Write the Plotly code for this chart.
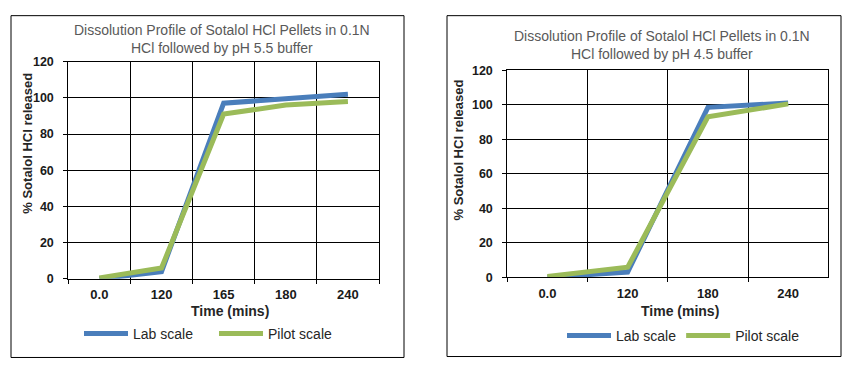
import plotly.graph_objects as go

# ---- data ----
left_categories = ["0.0", "120", "165", "180", "240"]
left_lab = [0, 4, 97, 99.5, 102]
left_pilot = [0.5, 6, 91, 96, 98]

right_categories = ["0.0", "120", "180", "240"]
right_lab = [0, 3, 98.5, 101]
right_pilot = [0.5, 5.8, 93, 100.5]

y_ticks = [0, 20, 40, 60, 80, 100, 120]

left_title = "Dissolution Profile of Sotalol HCl Pellets in 0.1N<br>HCl followed by pH 5.5 buffer"
right_title = "Dissolution Profile of Sotalol HCl Pellets in 0.1N<br>HCl followed by pH 4.5 buffer"
y_title = "% Sotalol HCl released"
x_title = "Time (mins)"

BLUE = "#4a7ebb"
GREEN = "#9bbb59"
W, H = 852, 377
FONT = "Liberation Sans, Arial, sans-serif"

fig = go.Figure()

fig.add_trace(go.Scatter(x=left_categories, y=left_lab, mode="lines", name="Lab scale",
                         line=dict(color=BLUE, width=5), xaxis="x", yaxis="y", legend="legend"))
fig.add_trace(go.Scatter(x=left_categories, y=left_pilot, mode="lines", name="Pilot scale",
                         line=dict(color=GREEN, width=5), xaxis="x", yaxis="y", legend="legend"))
fig.add_trace(go.Scatter(x=right_categories, y=right_lab, mode="lines", name="Lab scale",
                         line=dict(color=BLUE, width=5), xaxis="x2", yaxis="y2", legend="legend2"))
fig.add_trace(go.Scatter(x=right_categories, y=right_pilot, mode="lines", name="Pilot scale",
                         line=dict(color=GREEN, width=5), xaxis="x2", yaxis="y2", legend="legend2"))

def px_x(v):
    return v / W

def px_y(v):
    return 1 - v / H

xcommon = dict(type="category", tickson="boundaries", showgrid=True, gridcolor="#000000",
               gridwidth=1, ticks="outside", ticklen=4, tickcolor="#000000",
               showline=True, linecolor="#000000", mirror=True, ticklabelstandoff=4,
               tickfont=dict(family=FONT, size=13, color="#1a1a1a", weight="bold"),
               zeroline=False, fixedrange=True)
ycommon = dict(range=[0, 120], tickvals=y_ticks, showgrid=True, gridcolor="#000000",
               gridwidth=1, ticks="outside", ticklen=4, tickcolor="#000000",
               showline=True, linecolor="#000000", mirror=True, ticklabelstandoff=7,
               tickfont=dict(family=FONT, size=12.5, color="#1a1a1a", weight="bold"),
               zeroline=False, fixedrange=True)

fig.update_layout(
    width=W, height=H,
    margin=dict(l=0, r=0, t=0, b=0),
    paper_bgcolor="white", plot_bgcolor="white",
    font=dict(family=FONT),
    xaxis=dict(domain=[px_x(68.3), px_x(379)], anchor="y", range=[-0.5, 4.5], **xcommon),
    yaxis=dict(domain=[px_y(282.3), px_y(56.7)], anchor="x", **ycommon),
    xaxis2=dict(domain=[px_x(507.3), px_x(828.3)], anchor="y2", range=[-0.5, 3.5], **xcommon),
    yaxis2=dict(domain=[px_y(280.7), px_y(65.7)], anchor="x2", **ycommon),
    legend=dict(orientation="h", x=px_x(79), y=px_y(339.5), xanchor="left", yanchor="middle",
                font=dict(family=FONT, size=14, color="#262626"), itemwidth=44,
                entrywidth=76, bgcolor="rgba(0,0,0,0)"),
    legend2=dict(orientation="h", x=px_x(562), y=px_y(341.5), xanchor="left", yanchor="middle",
                 font=dict(family=FONT, size=14, color="#262626"), itemwidth=44,
                 bgcolor="rgba(0,0,0,0)"),
    showlegend=True,
    shapes=[
        dict(type="rect", xref="paper", yref="paper", x0=px_x(11), x1=px_x(404),
             y0=px_y(364), y1=px_y(9), line=dict(color="#000000", width=1)),
        dict(type="rect", xref="paper", yref="paper", x0=px_x(447), x1=px_x(841),
             y0=px_y(363), y1=px_y(9), line=dict(color="#000000", width=1)),
    ],
    annotations=[
        dict(text=left_title, x=px_x(221.5), y=px_y(33), xref="paper", yref="paper",
             showarrow=False, font=dict(family=FONT, size=14, color="#595959"),
             xanchor="center", yanchor="middle"),
        dict(text=right_title, x=px_x(662), y=px_y(39.7), xref="paper", yref="paper",
             showarrow=False, font=dict(family=FONT, size=14, color="#595959"),
             xanchor="center", yanchor="middle"),
        dict(text=y_title, x=px_x(28), y=px_y(142), xref="paper", yref="paper", textangle=-90,
             showarrow=False, font=dict(family=FONT, size=13, color="#262626", weight="bold"),
             xanchor="center", yanchor="middle"),
        dict(text=y_title, x=px_x(459), y=px_y(148), xref="paper", yref="paper", textangle=-90,
             showarrow=False, font=dict(family=FONT, size=13, color="#262626", weight="bold"),
             xanchor="center", yanchor="middle"),
        dict(text=x_title, x=px_x(230), y=px_y(316), xref="paper", yref="paper",
             showarrow=False, font=dict(family=FONT, size=14, color="#262626", weight="bold"),
             xanchor="center", yanchor="middle"),
        dict(text=x_title, x=px_x(680), y=px_y(316), xref="paper", yref="paper",
             showarrow=False, font=dict(family=FONT, size=14, color="#262626", weight="bold"),
             xanchor="center", yanchor="middle"),
    ],
)

fig.write_html("out.html", config={"displayModeBar": False},
               post_script="document.body.style.margin='0px';")
